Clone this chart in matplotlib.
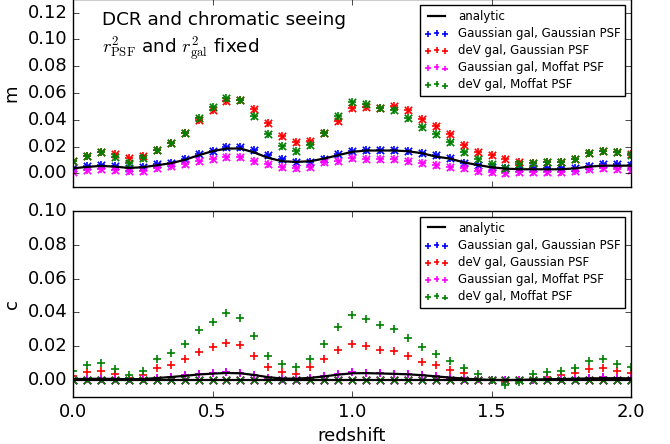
import numpy as np
import matplotlib
matplotlib.use("Agg")
import matplotlib.pyplot as plt

plt.style.use("classic")
plt.rcParams["mathtext.fontset"] = "cm"
plt.rcParams["font.size"] = 13

# redshift grid
z = np.round(np.arange(41) * 0.05, 2)

# multiplicative bias m (top panel)
m_gg = [0.0037, 0.0055, 0.0062, 0.0055, 0.0037, 0.0050, 0.0067, 0.0080, 0.0110, 0.0145,
        0.0170, 0.0195, 0.0200, 0.0175, 0.0137, 0.0105, 0.0087, 0.0087, 0.0110, 0.0145,
        0.0170, 0.0177, 0.0175, 0.0177, 0.0170, 0.0150, 0.0135, 0.0112, 0.0080, 0.0062,
        0.0050, 0.0040, 0.0037, 0.0037, 0.0037, 0.0037, 0.0040, 0.0057, 0.0067, 0.0067,
        0.0062]
m_dg = [0.0092, 0.0132, 0.0157, 0.0145, 0.0115, 0.0130, 0.0175, 0.0225, 0.0300, 0.0395,
        0.0475, 0.0537, 0.0550, 0.0480, 0.0375, 0.0280, 0.0230, 0.0243, 0.0300, 0.0387,
        0.0487, 0.0495, 0.0487, 0.0505, 0.0470, 0.0407, 0.0355, 0.0290, 0.0212, 0.0160,
        0.0137, 0.0110, 0.0082, 0.0075, 0.0082, 0.0087, 0.0105, 0.0150, 0.0170, 0.0157,
        0.0145]
m_gm = [0.0012, 0.0025, 0.0032, 0.0025, 0.0017, 0.0020, 0.0037, 0.0055, 0.0068, 0.0095,
        0.0110, 0.0125, 0.0120, 0.0095, 0.0067, 0.0050, 0.0042, 0.0050, 0.0087, 0.0095,
        0.0112, 0.0110, 0.0105, 0.0105, 0.0092, 0.0075, 0.0065, 0.0050, 0.0037, 0.0020,
        0.0012, 0.0005, 0.0012, 0.0012, 0.0012, 0.0012, 0.0020, 0.0032, 0.0037, 0.0032,
        0.0025]
m_dm = [0.0092, 0.0132, 0.0157, 0.0125, 0.0075, 0.0115, 0.0175, 0.0225, 0.0300, 0.0413,
        0.0495, 0.0563, 0.0550, 0.0430, 0.0290, 0.0207, 0.0170, 0.0212, 0.0300, 0.0430,
        0.0530, 0.0517, 0.0487, 0.0470, 0.0413, 0.0345, 0.0290, 0.0230, 0.0157, 0.0105,
        0.0067, 0.0037, 0.0067, 0.0075, 0.0082, 0.0087, 0.0105, 0.0150, 0.0170, 0.0157,
        0.0137]
m_analytic = [0.0037, 0.0048, 0.0055, 0.0050, 0.0040, 0.0045, 0.0060, 0.0075, 0.0100, 0.0135,
              0.0165, 0.0185, 0.0185, 0.0155, 0.0115, 0.0090, 0.0085, 0.0090, 0.0110, 0.0135,
              0.0160, 0.0170, 0.0170, 0.0170, 0.0165, 0.0150, 0.0125, 0.0110, 0.0082, 0.0062,
              0.0045, 0.0035, 0.0030, 0.0030, 0.0030, 0.0030, 0.0037, 0.0050, 0.0057, 0.0057,
              0.0057]

# additive bias c (bottom panel), c1 as '+', c2 as 'x'
c_gg = [0.0005, 0.0007, 0.0008, 0.0007, 0.0005, 0.0006, 0.0015, 0.0020, 0.0030, 0.0035,
        0.0040, 0.0045, 0.0040, 0.0030, 0.0015, 0.0008, 0.0008, 0.0015, 0.0025, 0.0035,
        0.0045, 0.0040, 0.0040, 0.0038, 0.0035, 0.0030, 0.0025, 0.0015, 0.0008, 0.0004,
        0.0000, 0.0000, 0.0000, 0.0003, 0.0005, 0.0005, 0.0008, 0.0015, 0.0018, 0.0015,
        0.0010]
c_dg = [0.0025, 0.0045, 0.0055, 0.0035, 0.0015, 0.0030, 0.0069, 0.0090, 0.0124, 0.0167,
        0.0197, 0.0222, 0.0206, 0.0143, 0.0078, 0.0050, 0.0035, 0.0075, 0.0124, 0.0179,
        0.0216, 0.0202, 0.0179, 0.0169, 0.0140, 0.0108, 0.0088, 0.0060, 0.0040, 0.0006,
        0.0000, -0.0010, 0.0000, 0.0008, 0.0018, 0.0030, 0.0041, 0.0065, 0.0069, 0.0051,
        0.0041]
c_gm = [0.0005, 0.0007, 0.0008, 0.0007, 0.0005, 0.0006, 0.0015, 0.0020, 0.0030, 0.0035,
        0.0040, 0.0045, 0.0040, 0.0030, 0.0015, 0.0008, 0.0008, 0.0015, 0.0025, 0.0035,
        0.0045, 0.0040, 0.0040, 0.0038, 0.0035, 0.0030, 0.0025, 0.0015, 0.0008, 0.0004,
        0.0000, 0.0000, 0.0000, 0.0003, 0.0005, 0.0005, 0.0008, 0.0015, 0.0018, 0.0015,
        0.0010]
c_dm = [0.0055, 0.0090, 0.0100, 0.0065, 0.0030, 0.0055, 0.0124, 0.0163, 0.0216, 0.0297,
        0.0344, 0.0395, 0.0370, 0.0258, 0.0143, 0.0094, 0.0075, 0.0124, 0.0216, 0.0316,
        0.0385, 0.0364, 0.0324, 0.0300, 0.0248, 0.0197, 0.0157, 0.0112, 0.0070, 0.0035,
        0.0000, -0.0030, -0.0010, 0.0035, 0.0050, 0.0055, 0.0069, 0.0114, 0.0124, 0.0098,
        0.0078]
c_analytic = [0.0006, 0.0007, 0.0008, 0.0007, 0.0005, 0.0006, 0.0012, 0.0018, 0.0025, 0.0033,
              0.0038, 0.0042, 0.0040, 0.0030, 0.0017, 0.0009, 0.0008, 0.0013, 0.0022, 0.0032,
              0.0040, 0.0041, 0.0039, 0.0037, 0.0034, 0.0029, 0.0022, 0.0015, 0.0009, 0.0004,
              0.0001, 0.0000, 0.0001, 0.0003, 0.0005, 0.0006, 0.0008, 0.0010, 0.0011, 0.0011,
              0.0010]
c2_zero = [0.0] * len(z)

labels = ["Gaussian gal, Gaussian PSF", "deV gal, Gaussian PSF",
          "Gaussian gal, Moffat PSF", "deV gal, Moffat PSF"]
colors = ["blue", "red", "magenta", "green"]
m_series = [m_gg, m_dg, m_gm, m_dm]
c_series = [c_gg, c_dg, c_gm, c_dm]

fig = plt.figure(figsize=(6.7, 4.44), dpi=100)
ax1 = fig.add_axes([0.109, 0.5795, 0.8328, 0.4225])
ax2 = fig.add_axes([0.109, 0.1059, 0.8328, 0.4189])

ms = 28
mlw = 1.2

# top panel: m
ax1.plot(z, m_analytic, color="k", lw=1.6, label="analytic")
for ys, col, lab in zip(m_series, colors, labels):
    ax1.scatter(z, ys, marker="+", c=col, s=ms, linewidths=mlw, label=lab)
    ax1.scatter(z, ys, marker="x", c=col, s=ms, linewidths=mlw)
ax1.set_xlim(0, 2)
ax1.set_ylim(-0.01, 0.13)
ax1.set_ylabel("m")
ax1.set_xticklabels([])
ax1.text(0.052, 0.935, "DCR and chromatic seeing\n"
         r"$r^2_\mathrm{PSF}$ and $r^2_\mathrm{gal}$ fixed",
         transform=ax1.transAxes, va="top", ha="left", fontsize=13.2,
         linespacing=1.3)
ax1.legend(loc="upper right", fontsize=8.5, scatterpoints=3, labelspacing=0.35,
           markerscale=0.8)

# bottom panel: c
ax2.plot(z, c_analytic, color="k", lw=1.6, label="analytic")
ax2.plot(z, c2_zero, color="k", lw=1.6)
for ys, col, lab in zip(c_series, colors, labels):
    ax2.scatter(z, ys, marker="+", c=col, s=ms, linewidths=mlw, label=lab)
    ax2.scatter(z, c2_zero, marker="x", c=col, s=ms, linewidths=mlw)
ax2.set_xlim(0, 2)
ax2.set_ylim(-0.01, 0.10)
ax2.set_ylabel("c")
ax2.set_xlabel("redshift")
ax2.legend(loc="upper right", fontsize=8.5, scatterpoints=3, labelspacing=0.35,
           markerscale=0.8)

fig.savefig("out.png", dpi=100)
